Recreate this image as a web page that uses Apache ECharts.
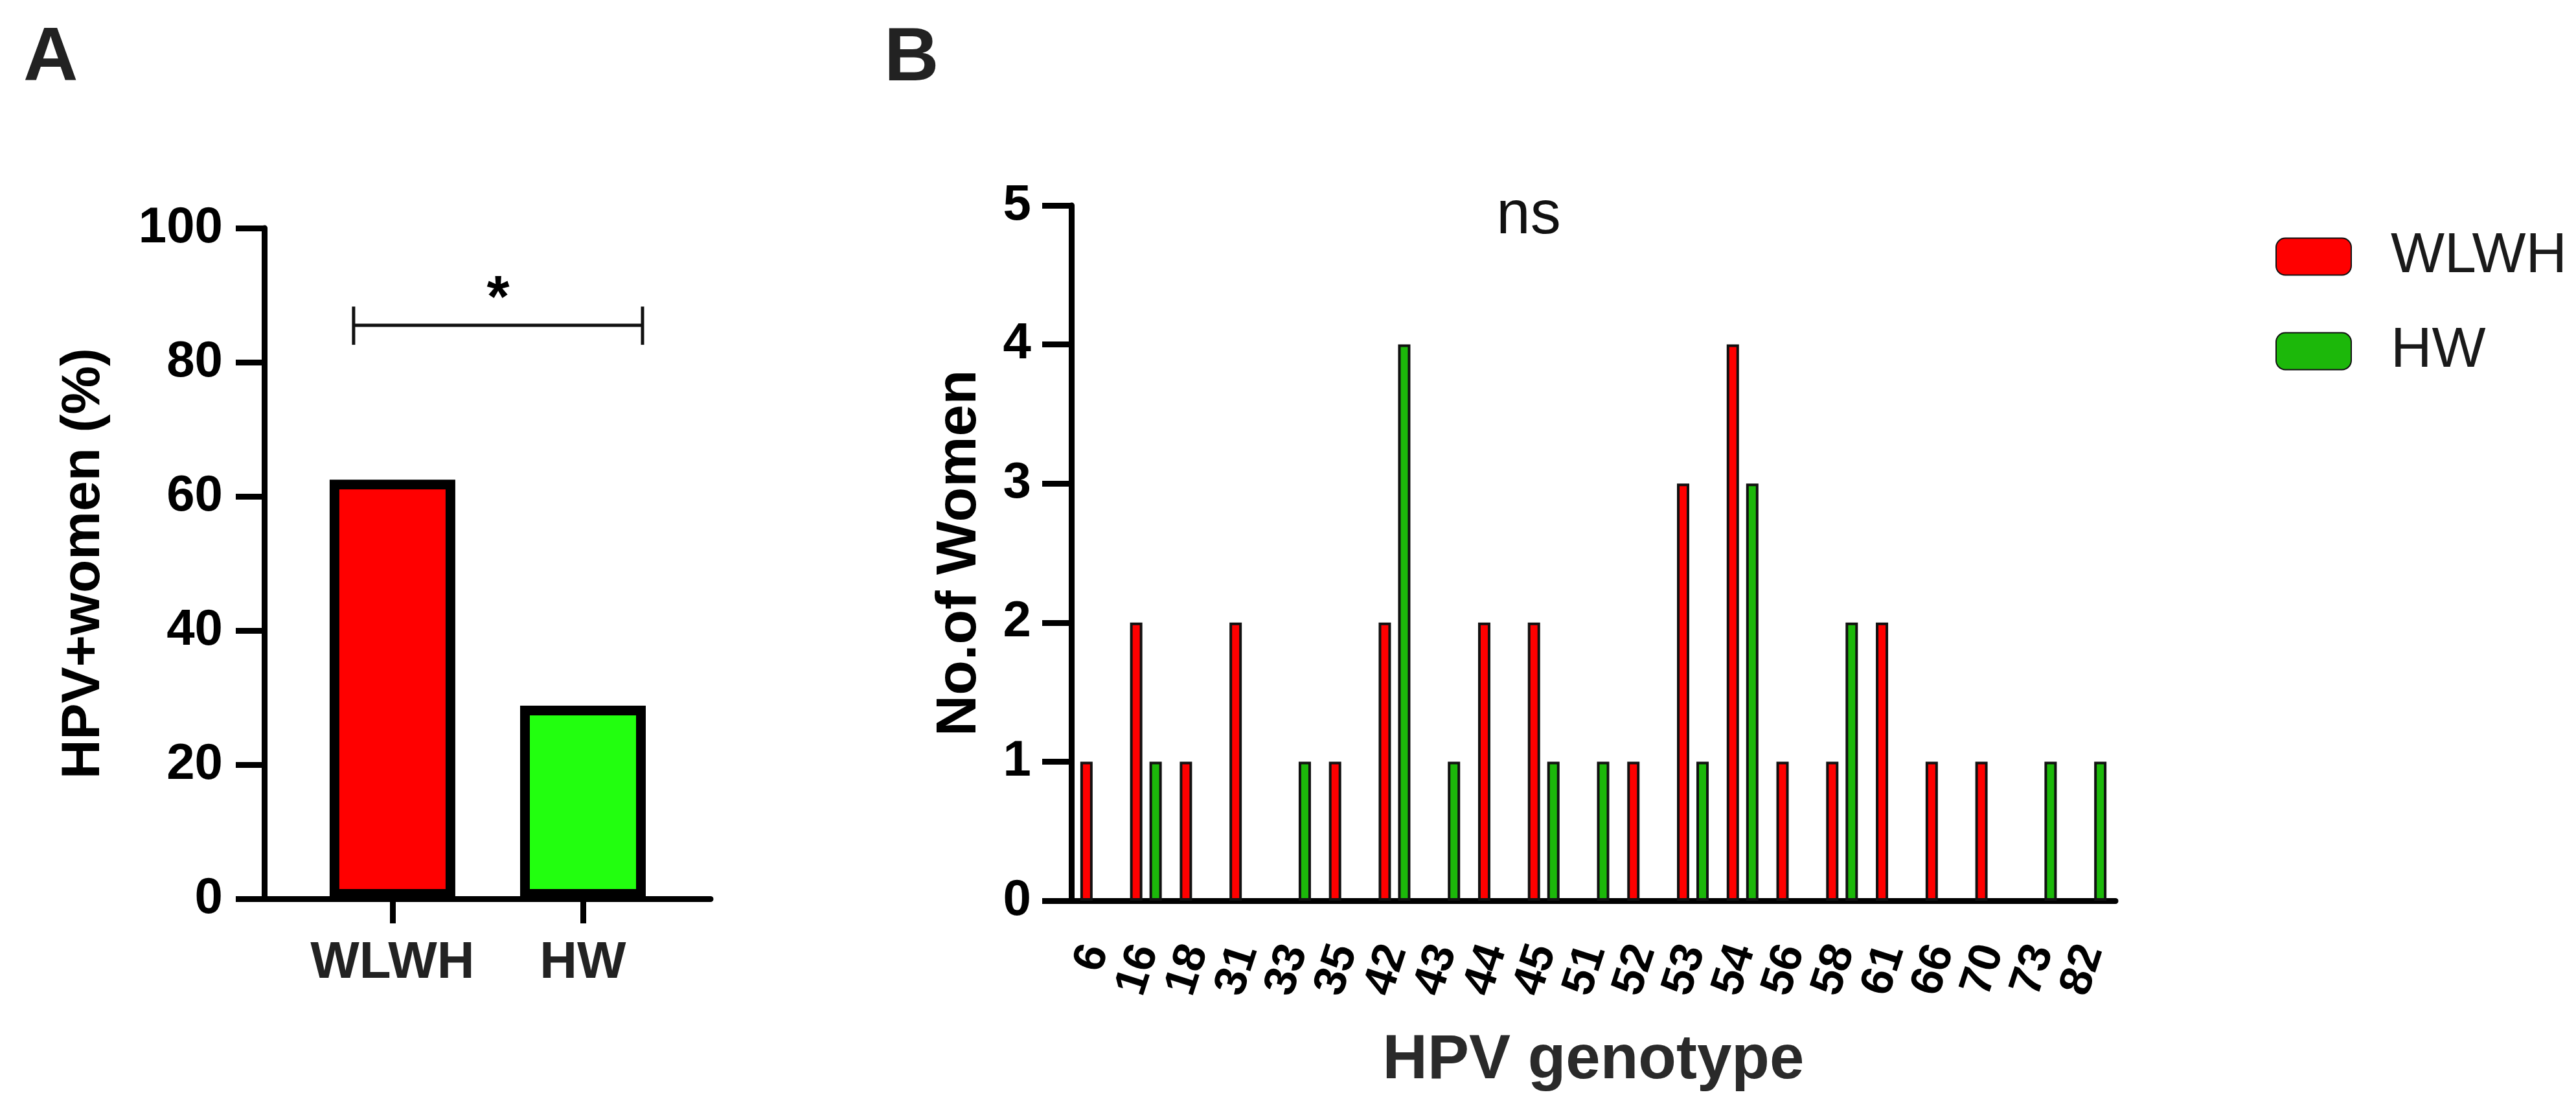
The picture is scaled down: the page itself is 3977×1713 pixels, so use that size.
<!DOCTYPE html>
<html><head><meta charset="utf-8">
<script src="https://cdn.jsdelivr.net/npm/echarts@6/dist/echarts.min.js"></script>
<style>html,body{margin:0;padding:0;background:#fff}#c{width:3977px;height:1713px}</style>
</head><body><div id="c"></div>
<script>
// ---- data ----
const groupsA = ['WLWH', 'HW'];
const percentA = [62.5, 28.8];
const genotypes = ['6','16','18','31','33','35','42','43','44','45','51','52','53','54','56','58','61','66','70','73','82'];
const wlwhCounts = [1,2,1,2,0,1,2,0,2,2,0,1,3,4,1,1,2,1,1,0,0];
const hwCounts   = [0,1,0,0,1,0,4,1,0,1,1,0,1,3,0,2,0,0,0,1,1];
const ticksA = [0,20,40,60,80,100];
const ticksB = [0,1,2,3,4,5];

const FONT = "'Liberation Sans', Arial, Helvetica, sans-serif";
const RED = '#FF0000', LIME = '#22FF0F', GREEN = '#1CB80A';

const chart = echarts.init(document.getElementById('c'));

const groupIdx = groupsA.map((_, i) => i);
const axisLineStyle = {color: '#000', width: 9};
const option = {
  animation: false,
  backgroundColor: '#fff',
  textStyle: {fontFamily: FONT},
  grid: [
    {left: 408, top: 352, width: 689, height: 1035},
    {left: 1654, top: 317, width: 1612, height: 1073}
  ],
  xAxis: [
    {
      gridIndex: 0, type: 'value', min: -0.673, max: 1.67,
      axisLine: {show: true, onZero: false, lineStyle: axisLineStyle},
      axisTick: {show: true, length: 38, customValues: groupIdx, lineStyle: {width: 9, color: '#000'}},
      axisLabel: {show: true, margin: 60, fontSize: 80, fontWeight: 'bold', color: '#222', fontFamily: FONT,
        customValues: groupIdx, formatter: v => groupsA[Math.round(v)]},
      splitLine: {show: false}
    },
    {
      gridIndex: 1, type: 'category', data: genotypes,
      axisLine: {lineStyle: axisLineStyle},
      axisTick: {alignWithLabel: true, length: 45, lineStyle: {width: 8, color: '#000'}},
      axisLabel: {margin: 70, fontSize: 70, fontWeight: 'bold', color: '#000', rotate: 72, interval: 0, fontFamily: FONT},
      name: 'HPV genotype', nameLocation: 'middle', nameGap: 200,
      nameTextStyle: {fontSize: 96, fontWeight: 'bold', color: '#2a2a2a', fontFamily: FONT},
      splitLine: {show: false}
    }
  ],
  yAxis: [
    {
      gridIndex: 0, type: 'value', min: 0, max: 100, interval: 20,
      axisLine: {show: true, onZero: false, lineStyle: axisLineStyle},
      axisTick: {show: true, length: 44, lineStyle: {width: 9, color: '#000'}},
      axisLabel: {margin: 64, fontSize: 78, fontWeight: 'bold', color: '#000', fontFamily: FONT,
        formatter: v => ticksA.includes(v) ? String(v) : ''},
      splitLine: {show: false},
      name: 'HPV+women (%)', nameLocation: 'middle', nameGap: 236,
      nameTextStyle: {fontSize: 84, fontWeight: 'bold', color: '#000', fontFamily: FONT}
    },
    {
      gridIndex: 1, type: 'value', min: 0, max: 5, interval: 1,
      axisLine: {show: true, lineStyle: axisLineStyle},
      axisTick: {show: true, length: 45, lineStyle: {width: 9, color: '#000'}},
      axisLabel: {margin: 62, fontSize: 78, fontWeight: 'bold', color: '#000', fontFamily: FONT,
        formatter: v => ticksB.includes(v) ? String(v) : ''},
      splitLine: {show: false},
      name: 'No.of Women', nameLocation: 'middle', nameGap: 128,
      nameTextStyle: {fontSize: 88, fontWeight: 'bold', color: '#000', fontFamily: FONT}
    }
  ],
  legend: {
    data: ['WLWH', 'HW'],
    orient: 'vertical', left: 3508, top: 346,
    itemWidth: 116, itemHeight: 57, itemGap: 56,
    icon: 'roundRect',
    textStyle: {fontSize: 88, color: '#1a1a1a', fontFamily: FONT, padding: [0, 0, 0, 56], lineHeight: 90}
  },
  series: [
    {
      name: 'HPV+ women', type: 'bar', xAxisIndex: 0, yAxisIndex: 0,
      barWidth: 194,
      data: percentA.map((v, i) => ({value: [i, v], itemStyle: {color: i === 0 ? RED : LIME}})),
      itemStyle: {borderColor: '#000', borderWidth: 15}
    },
    {
      name: 'WLWH', type: 'bar', xAxisIndex: 1, yAxisIndex: 1,
      data: wlwhCounts.map(v => v === 0 ? '-' : v),
      barWidth: 19, barGap: '58%',
      itemStyle: {color: RED, borderColor: '#111', borderWidth: 4}
    },
    {
      name: 'HW', type: 'bar', xAxisIndex: 1, yAxisIndex: 1,
      data: hwCounts.map(v => v === 0 ? '-' : v),
      barWidth: 19, barGap: '58%',
      itemStyle: {color: GREEN, borderColor: '#111', borderWidth: 4}
    }
  ]
};
chart.setOption(option);

// annotations anchored to the axes
const bracketY = 85.5;
const pL = chart.convertToPixel({gridIndex: 0}, [0, bracketY]);
const pR = chart.convertToPixel({gridIndex: 0}, [1, bracketY]);
const capTop = chart.convertToPixel({gridIndex: 0}, [0, 88.3])[1];
const capBot = chart.convertToPixel({gridIndex: 0}, [0, 82.6])[1];
const xL = pL[0] - 60, xR = pR[0] + 92, yB = pL[1];
const nsPos = chart.convertToPixel({gridIndex: 1}, ['42', 5]);

chart.setOption({
  graphic: [
    {type: 'text', left: 36, top: 33, style: {text: 'A', font: 'bold 117px ' + FONT, fill: '#222'}},
    {type: 'text', left: 1365, top: 33, style: {text: 'B', font: 'bold 117px ' + FONT, fill: '#222'}},
    {type: 'line', shape: {x1: xL, y1: yB, x2: xR, y2: yB}, style: {stroke: '#111', lineWidth: 5}},
    {type: 'line', shape: {x1: xL, y1: capTop, x2: xL, y2: capBot}, style: {stroke: '#111', lineWidth: 5}},
    {type: 'line', shape: {x1: xR, y1: capTop, x2: xR, y2: capBot}, style: {stroke: '#111', lineWidth: 5}},
    {type: 'text', x: (xL + xR) / 2, y: yB - 38, style: {text: '*', font: 'bold 90px ' + FONT, fill: '#000', align: 'center', verticalAlign: 'middle'}},
    {type: 'text', x: 2360, y: nsPos[1] + 17, style: {text: 'ns', font: '94px ' + FONT, fill: '#111', align: 'center', verticalAlign: 'middle'}}
  ]
});
</script></body></html>
